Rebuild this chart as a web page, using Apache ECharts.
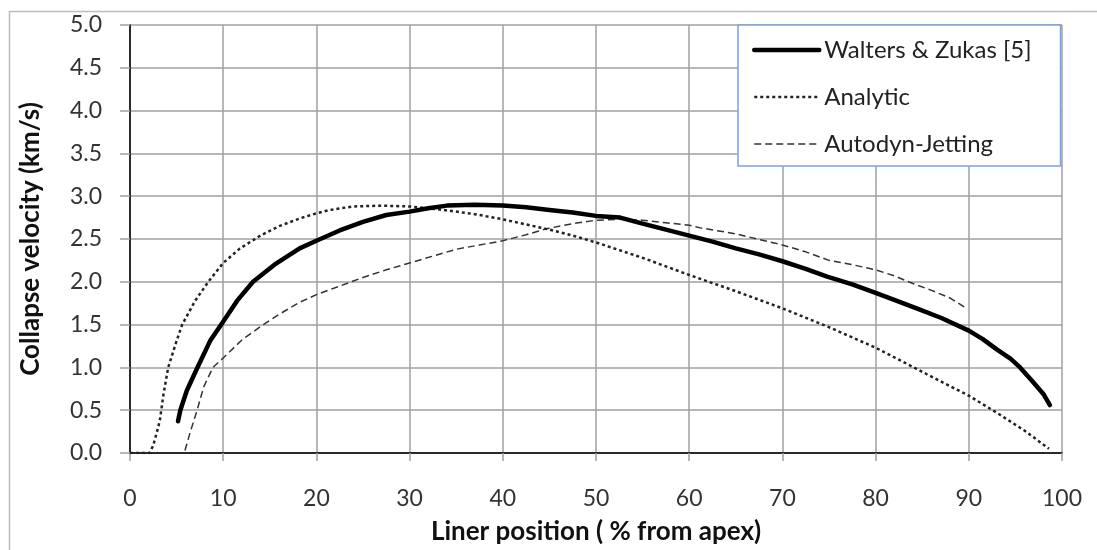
<!DOCTYPE html>
<html>
<head>
<meta charset="utf-8">
<script src="https://cdn.jsdelivr.net/npm/echarts@6/dist/echarts.min.js"></script>
<style>
  html, body { margin: 0; padding: 0; background: #fff; }
  #chart { width: 1097px; height: 550px; }
</style>
</head>
<body>
<div id="chart"></div>
<script>
// 数据
const seriesNames = ['Walters & Zukas [5]', 'Analytic', 'Autodyn-Jetting'];

const wzX = [5.15, 5.4, 6.1, 7.2, 8.6, 9.9, 11.5, 13.2, 15.5, 18.2, 20, 22.5, 25, 27.5, 30, 32, 34, 37, 40, 42.5, 45, 47.5, 50, 52.6, 55, 57.5, 60, 62.5, 65, 67.5, 70, 72.5, 74.8, 77.5, 80, 82, 84.4, 87, 90, 91.5, 93, 94.5, 95.5, 96.8, 98.0, 98.7];
const wzY = [0.37, 0.5, 0.73, 0.99, 1.31, 1.52, 1.78, 2.0, 2.2, 2.39, 2.48, 2.6, 2.7, 2.78, 2.82, 2.86, 2.89, 2.9, 2.89, 2.87, 2.84, 2.81, 2.77, 2.75, 2.68, 2.61, 2.54, 2.47, 2.39, 2.32, 2.24, 2.15, 2.06, 1.97, 1.87, 1.79, 1.69, 1.58, 1.43, 1.33, 1.21, 1.1, 1.0, 0.84, 0.69, 0.56];

const anX = [0, 2.1, 2.5, 2.9, 3.2, 3.6, 4.1, 5.0, 5.6, 7.0, 8.4, 10, 11.8, 14, 16, 18.2, 20, 21.5, 23.9, 27, 30, 32, 34.3, 37, 40, 42.5, 45.4, 47.5, 50, 55, 60, 65, 70, 75, 80, 82.5, 85.5, 88, 90, 93.3, 96, 98.6];
const anY = [0, 0, 0.09, 0.25, 0.38, 0.69, 1.0, 1.31, 1.5, 1.78, 2.0, 2.22, 2.39, 2.54, 2.65, 2.74, 2.8, 2.84, 2.88, 2.89, 2.88, 2.86, 2.83, 2.79, 2.73, 2.67, 2.6, 2.54, 2.46, 2.28, 2.08, 1.89, 1.69, 1.47, 1.23, 1.09, 0.92, 0.78, 0.67, 0.45, 0.26, 0.05];

const adX = [5.9, 6.4, 7.2, 7.9, 8.9, 10, 12, 14.3, 16, 18.2, 20, 22.5, 25, 27.5, 30, 32.5, 35, 37.5, 40, 42.5, 44.7, 47.5, 50, 52.5, 55, 57.5, 60, 61.2, 65, 70, 72.5, 75, 77.5, 80, 82, 84, 86, 88, 89.6];
const adY = [0.03, 0.22, 0.5, 0.77, 1.0, 1.11, 1.32, 1.5, 1.62, 1.76, 1.85, 1.95, 2.05, 2.14, 2.22, 2.3, 2.38, 2.43, 2.48, 2.55, 2.62, 2.68, 2.72, 2.73, 2.72, 2.69, 2.66, 2.63, 2.56, 2.43, 2.35, 2.25, 2.2, 2.14, 2.07, 1.98, 1.9, 1.81, 1.7];

const xTicks = { min: 0, max: 100, interval: 10 };
const yTicks = { min: 0, max: 5, interval: 0.5 };

const zip = (xs, ys) => xs.map((x, i) => [x, ys[i]]);

const FONT = 'Lato, "Open Sans", sans-serif';
const GRID_COLOR = '#a0a0a0';

// 各系列线型
const lineStyles = [
    { color: '#000', width: 4.5, cap: 'round' },
    { color: '#222', width: 2.5, type: [3, 3] },
    { color: '#333', width: 1.5, type: [7, 4] }
];

const chart = echarts.init(document.getElementById('chart'));

const option = {
    animation: false,
    backgroundColor: '#fff',
    textStyle: { fontFamily: FONT },
    graphic: [{
        type: 'rect',
        left: 7, top: 9,
        shape: { width: 1200, height: 700 },
        style: { fill: 'none', stroke: '#bdbdbd', lineWidth: 1.5 },
        silent: true
    }],
    grid: { left: 130, right: 35, top: 25, bottom: 94 },
    legend: {
        orient: 'vertical',
        left: 738, top: 25,
        padding: [13, 29, 10, 14],
        itemWidth: 65, itemHeight: 20, itemGap: 23,
        borderColor: '#7ea3d2', borderWidth: 1.5,
        backgroundColor: '#fff',
        itemStyle: { opacity: 0 },
        textStyle: { fontSize: 24, color: '#222', fontFamily: FONT },
        data: seriesNames.map((name, i) => ({ name, lineStyle: lineStyles[i] }))
    },
    xAxis: [{
        type: 'value',
        ...xTicks,
        position: 'bottom',
        name: 'Liner position ( % from apex)',
        nameLocation: 'middle',
        nameGap: 66,
        nameTextStyle: { fontSize: 26, fontWeight: 'bold', color: '#111', fontFamily: FONT },
        axisLine: { show: true, onZero: false, lineStyle: { color: GRID_COLOR, width: 1.5 } },
        axisTick: { show: true, length: 8, lineStyle: { color: GRID_COLOR, width: 1.5 } },
        axisLabel: { fontSize: 23, color: '#333', margin: 34 },
        splitLine: { show: true, lineStyle: { color: GRID_COLOR, width: 1.5 } }
    }, {
        type: 'value',
        ...xTicks,
        position: 'top',
        axisLine: { show: true, lineStyle: { color: '#000', width: 1.5 } },
        axisTick: { show: false },
        axisLabel: { show: false },
        splitLine: { show: false }
    }],
    yAxis: [{
        type: 'value',
        ...yTicks,
        position: 'left',
        name: 'Collapse velocity (km/s)',
        nameLocation: 'middle',
        nameGap: 86,
        nameTextStyle: { fontSize: 26, fontWeight: 'bold', color: '#111', fontFamily: FONT },
        axisLine: { show: true, lineStyle: { color: GRID_COLOR, width: 1.5 } },
        axisTick: { show: true, length: 10, lineStyle: { color: GRID_COLOR, width: 1.5 } },
        axisLabel: { fontSize: 23, color: '#333', margin: 28, formatter: v => v.toFixed(1) },
        splitLine: { show: true, lineStyle: { color: GRID_COLOR, width: 1.5 } }
    }, {
        type: 'value',
        ...yTicks,
        position: 'right',
        axisLine: { show: true, lineStyle: { color: '#000', width: 1.5 } },
        axisTick: { show: false },
        axisLabel: { show: false },
        splitLine: { show: false }
    }],
    series: [
        { data: zip(wzX, wzY), z: 5 },
        { data: zip(anX, anY), z: 4 },
        { data: zip(adX, adY), z: 3 }
    ].map((s, i) => ({
        name: seriesNames[i],
        type: 'line',
        data: s.data,
        z: s.z,
        showSymbol: false,
        symbol: 'none',
        lineStyle: lineStyles[i],
        itemStyle: { color: lineStyles[i].color }
    }))
};

chart.setOption(option);
</script>
</body>
</html>
